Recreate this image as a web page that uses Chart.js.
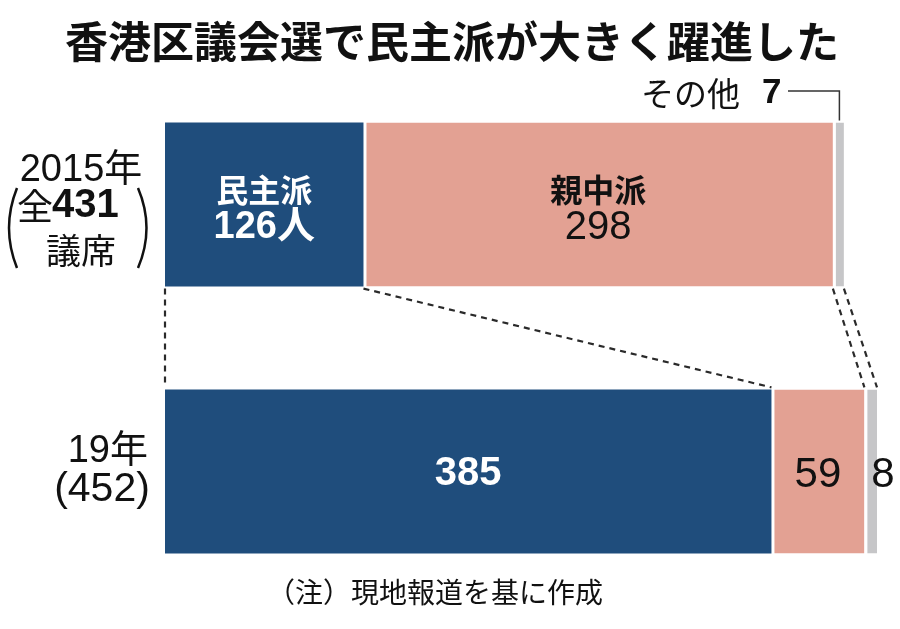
<!DOCTYPE html>
<html lang="ja">
<head>
<meta charset="utf-8">
<script src="https://cdn.jsdelivr.net/npm/chart.js@4.4.0/dist/chart.umd.min.js"></script>
<style>
  body { margin: 0; background: #fff; }
  #wrap { width: 900px; height: 629px; }
</style>
</head>
<body>
<div id="wrap"><canvas id="myChart"></canvas></div>
<script>
const years = ['2015年', '19年']
const parties = ['民主派', '親中派', 'その他']
const minshu = [126, 385]
const shinchu = [298, 59]
const sonota = [7, 8]
const totals = [431, 452]

const colors = ['#1f4d7c', '#e3a193', '#c6c6c8']
const CJK = '"Noto Sans CJK JP"'
const NUM = '"Liberation Sans", "Noto Sans CJK JP"'

const txt = (ctx, s, x, y, font, color, align) => {
  ctx.font = font
  ctx.fillStyle = color || '#111'
  ctx.textAlign = align || 'center'
  ctx.textBaseline = 'middle'
  ctx.fillText(s, x, y)
}

const paren = (ctx, x1, y1, cx, y2) => {
  ctx.beginPath()
  ctx.moveTo(x1, y1)
  ctx.quadraticCurveTo(cx, (y1 + y2) / 2, x1, y2)
  ctx.stroke()
}

const drawExtras = {
  id: 'drawExtras',
  afterDraw(chart) {
    const ctx = chart.ctx
    const m = [0, 1, 2].map(i => chart.getDatasetMeta(i).data)
    ctx.save()

    // title
    txt(ctx, '香港区議会選で民主派が大きく躍進した', 452, 42, 'bold 43px ' + CJK, '#111')

    // その他 7 label and leader line
    txt(ctx, 'その他', 641, 93, '33px ' + CJK, '#111', 'left')
    txt(ctx, String(sonota[0]), 762, 93, 'bold 35px ' + NUM, '#111', 'left')
    const g = m[2][0]
    const gx = (g.x + g.base) / 2 + 1
    ctx.strokeStyle = '#333'
    ctx.lineWidth = 1.5
    ctx.beginPath()
    ctx.moveTo(788, 91)
    ctx.lineTo(gx, 91)
    ctx.lineTo(gx, g.y - g.height / 2 - 2)
    ctx.stroke()

    // dashed connectors between the two bars
    const top = m[0][0], bot = m[0][1]
    const ya = top.y + top.height / 2 + 2
    const yb = bot.y - bot.height / 2 - 2
    const xsA = [m[0][0].base, m[0][0].x, m[1][0].x, m[2][0].x]
    const xsB = [m[0][1].base, m[0][1].x, m[1][1].x, m[2][1].x]
    ctx.setLineDash([6, 5])
    ctx.lineWidth = 2.2
    ctx.strokeStyle = '#2a2a2a'
    xsA.forEach((xa, i) => {
      ctx.beginPath()
      ctx.moveTo(xa, ya)
      ctx.lineTo(xsB[i], yb)
      ctx.stroke()
    })
    ctx.setLineDash([])

    // labels inside 2015 bar
    const a = m[0][0], b = m[1][0]
    const ax = (a.x + a.base) / 2, bx = (b.x + b.base) / 2
    txt(ctx, parties[0], ax, a.y - 15, 'bold 32px ' + CJK, '#fff')
    txt(ctx, minshu[0] + '人', ax, a.y + 23, 'bold 38px ' + NUM, '#fff')
    txt(ctx, parties[1], bx, b.y - 15, 'bold 32px ' + CJK, '#111')
    txt(ctx, String(shinchu[0]), bx, b.y + 23, '40px ' + NUM, '#111')

    // labels on 2019 bar
    const c = m[0][1], d = m[1][1], e = m[2][1]
    txt(ctx, String(minshu[1]), (c.x + c.base) / 2, c.y + 2, 'bold 40px ' + NUM, '#fff')
    txt(ctx, String(shinchu[1]), (d.x + d.base) / 2, d.y + 4, '42px ' + NUM, '#111')
    txt(ctx, String(sonota[1]), e.x + 6, e.y + 4, '42px ' + NUM, '#111')

    // left category labels
    txt(ctx, years[0], 81, 171, '38px ' + NUM, '#111')
    txt(ctx, '全', 17, 206, '36px ' + CJK, '#111', 'left')
    txt(ctx, String(totals[0]), 52, 206, 'bold 40px ' + NUM, '#111', 'left')
    txt(ctx, '議席', 81, 251, '35px ' + CJK, '#111')
    ctx.strokeStyle = '#111'
    ctx.lineWidth = 2.5
    paren(ctx, 17, 188, 1, 268)
    paren(ctx, 138, 188, 155, 268)

    txt(ctx, years[1], 148, 452, '38px ' + NUM, '#111', 'right')
    txt(ctx, '(' + totals[1] + ')', 102, 490, '41px ' + NUM, '#111')

    // footnote
    txt(ctx, '（注）現地報道を基に作成', 435, 592, '28px ' + CJK, '#111')
    ctx.restore()
  }
}

new Chart(document.getElementById('myChart'), {
  type: 'bar',
  data: {
    labels: years,
    datasets: [
      { label: parties[0], data: minshu, backgroundColor: colors[0], borderWidth: 0 },
      { label: parties[1], data: shinchu, backgroundColor: colors[1], borderColor: '#fff', borderSkipped: false, borderWidth: { left: 3, right: 0, top: 0, bottom: 0 } },
      { label: parties[2], data: sonota, backgroundColor: colors[2], borderColor: '#fff', borderSkipped: false, borderWidth: { left: 3, right: 0, top: 0, bottom: 0 } }
    ]
  },
  options: {
    indexAxis: 'y',
    responsive: true,
    maintainAspectRatio: false,
    animation: false,
    layout: { padding: { left: 165, right: 23, top: 71, bottom: 24 } },
    datasets: { bar: { barPercentage: 0.615, categoryPercentage: 1 } },
    scales: {
      x: { stacked: true, min: 0, max: 452, display: false },
      y: { stacked: true, display: false }
    },
    plugins: { legend: { display: false }, tooltip: { enabled: false } }
  },
  plugins: [drawExtras]
})
</script>
</body>
</html>
